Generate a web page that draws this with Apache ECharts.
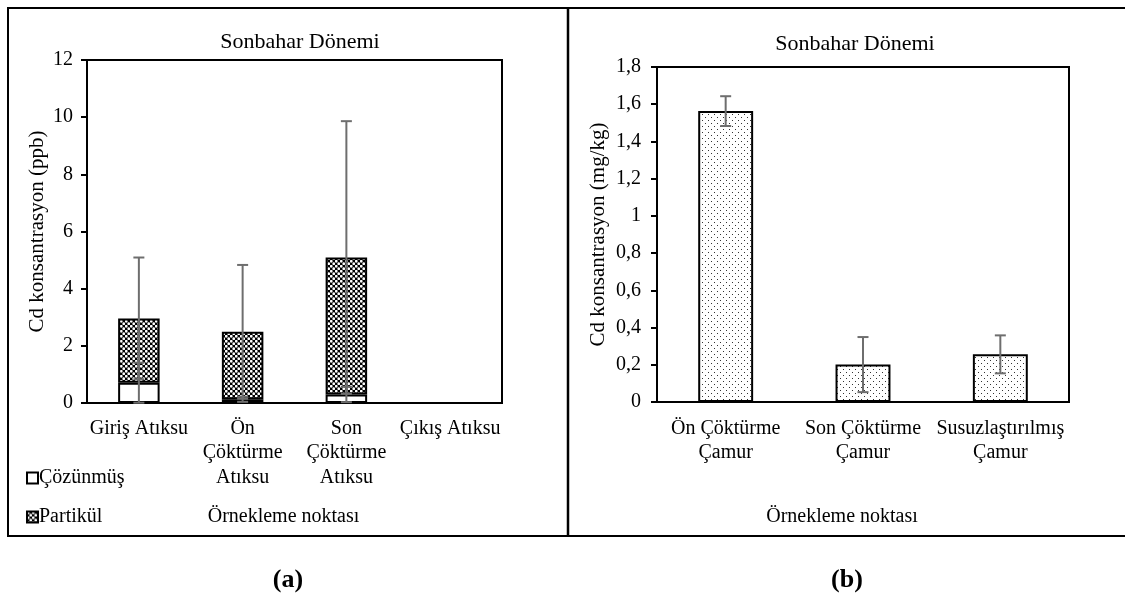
<!DOCTYPE html>
<html>
<head>
<meta charset="utf-8">
<script src="https://cdn.jsdelivr.net/npm/echarts@6/dist/echarts.min.js"></script>
<style>
  html, body { margin: 0; padding: 0; background: #fff; }
  #chart { width: 1125px; height: 597px; }
</style>
</head>
<body>
<div id="chart"></div>
<script>
// Panel (a): dissolved / particulate Cd in wastewater (ppb)
const catsA = ['Giriş Atıksu', 'Ön\nÇöktürme\nAtıksu', 'Son\nÇöktürme\nAtıksu', 'Çıkış Atıksu'];
const dissolved = [0.71, 0.13, 0.30, null];
const particle = [2.25, 2.36, 4.79, null];
const dissolvedErr = [0.70, 0.09, 0.27, null];
const totalErr = [2.13, 2.34, 4.77, null];

// Panel (b): Cd in sludge (mg/kg)
const catsB = ['Ön Çöktürme\nÇamur', 'Son Çöktürme\nÇamur', 'Susuzlaştırılmış\nÇamur'];
const sludge = [1.563, 0.201, 0.256];
const sludgeErr = [0.080, 0.148, 0.102];

const serif = '"Liberation Serif", "Times New Roman", serif';
const FS = 20;

// Fill textures: white spheres on black, and sparse dots
function densePattern() {
  const c = document.createElement('canvas');
  c.width = 5; c.height = 5;
  const g = c.getContext('2d');
  g.fillStyle = '#000'; g.fillRect(0, 0, 5, 5);
  g.fillStyle = '#fff';
  [[1.25, 1.25], [3.75, 3.75]].forEach(p => {
    g.beginPath(); g.arc(p[0], p[1], 1.4, 0, Math.PI * 2); g.fill();
  });
  return c;
}
function dotPattern() {
  const c = document.createElement('canvas');
  c.width = 6; c.height = 6;
  const g = c.getContext('2d');
  g.fillStyle = '#fff'; g.fillRect(0, 0, 6, 6);
  g.fillStyle = '#333';
  g.fillRect(0, 0, 1, 1); g.fillRect(3, 3, 1, 1);
  return c;
}
const fillDense = { image: densePattern(), repeat: 'repeat' };
const fillDots = { image: dotPattern(), repeat: 'repeat' };

function errorBar(params, api) {
  const x = api.value(0), v = api.value(1), e = api.value(2);
  if (isNaN(v) || isNaN(e)) return null;
  const hi = api.coord([x, v + e]);
  const lo = api.coord([x, Math.max(v - e, 0)]);
  const w = 5.5;
  const st = { stroke: '#6e6e6e', lineWidth: 2 };
  return {
    type: 'group',
    children: [
      { type: 'line', shape: { x1: hi[0], y1: hi[1], x2: lo[0], y2: lo[1] }, style: st },
      { type: 'line', shape: { x1: hi[0] - w, y1: hi[1], x2: hi[0] + w, y2: hi[1] }, style: st },
      { type: 'line', shape: { x1: lo[0] - w, y1: lo[1], x2: lo[0] + w, y2: lo[1] }, style: st }
    ]
  };
}

const errA = [];
const errA2 = [];
catsA.forEach((c, i) => {
  if (dissolved[i] == null) return;
  errA.push([i, dissolved[i], dissolvedErr[i]]);
  errA2.push([i, dissolved[i] + particle[i], totalErr[i]]);
});
const errB = catsB.map((c, i) => [i, sludge[i], sludgeErr[i]]);

const axisLine = { show: true, lineStyle: { color: '#000', width: 2 } };
const labelStyle = { fontFamily: serif, fontSize: FS, color: '#000' };
const nameStyle = { fontFamily: serif, fontSize: 21, color: '#000' };
const titleStyle = { fontFamily: serif, fontSize: 22, fontWeight: 'normal', color: '#000' };
const tagStyle = { fontFamily: serif, fontSize: 26, fontWeight: 'bold', color: '#000' };

const chart = echarts.init(document.getElementById('chart'), null, { renderer: 'canvas' });
chart.setOption({
  animation: false,
  backgroundColor: '#fff',
  textStyle: { fontFamily: serif },
  title: [
    { text: 'Sonbahar Dönemi', left: 295, top: 26, textAlign: 'center', textStyle: titleStyle },
    { text: 'Sonbahar Dönemi', left: 850, top: 28, textAlign: 'center', textStyle: titleStyle },
    { text: '(a)', left: 283, top: 562, textAlign: 'center', textStyle: tagStyle },
    { text: '(b)', left: 842, top: 562, textAlign: 'center', textStyle: tagStyle }
  ],
  legend: {
    left: 21, top: 463, orient: 'vertical', itemGap: 19,
    itemWidth: 11, itemHeight: 11, icon: 'rect',
    data: ['Çözünmüş', 'Partikül'],
    textStyle: { fontFamily: serif, fontSize: FS, color: '#000', padding: [0, 0, 0, -4] }
  },
  grid: [
    { left: 87, top: 60, width: 415, height: 343, show: true, borderColor: '#000', borderWidth: 2, backgroundColor: 'transparent' },
    { left: 657, top: 67, width: 412, height: 335, show: true, borderColor: '#000', borderWidth: 2, backgroundColor: 'transparent' }
  ],
  xAxis: [
    { type: 'category', gridIndex: 0, data: catsA, axisLine, axisTick: { show: false },
      axisLabel: Object.assign({ margin: 13, lineHeight: 24.5, interval: 0 }, labelStyle),
      name: 'Örnekleme noktası', nameLocation: 'middle', nameGap: 104,
      nameTextStyle: { fontFamily: serif, fontSize: FS, color: '#000', padding: [0, 0, 0, -22] } },
    { type: 'category', gridIndex: 1, data: catsB, axisLine, axisTick: { show: false },
      axisLabel: Object.assign({ margin: 14, lineHeight: 24.5, interval: 0 }, labelStyle),
      name: 'Örnekleme noktası', nameLocation: 'middle', nameGap: 105,
      nameTextStyle: { fontFamily: serif, fontSize: FS, color: '#000', padding: [0, 0, 0, -42] } }
  ],
  yAxis: [
    { type: 'value', gridIndex: 0, min: 0, max: 12, interval: 2, axisLine,
      axisTick: { show: true, length: 6, lineStyle: { color: '#000', width: 2 } },
      splitLine: { show: false },
      axisLabel: Object.assign({ margin: 14 }, labelStyle),
      name: 'Cd konsantrasyon (ppb)', nameLocation: 'middle', nameGap: 39.5, nameRotate: 90,
      nameTextStyle: nameStyle },
    { type: 'value', gridIndex: 1, min: 0, max: 1.8, interval: 0.2, axisLine,
      axisTick: { show: true, length: 6, lineStyle: { color: '#000', width: 2 } },
      splitLine: { show: false },
      axisLabel: Object.assign({ margin: 16, formatter: v => String(Math.round(v * 10) / 10).replace('.', ',') }, labelStyle),
      name: 'Cd konsantrasyon (mg/kg)', nameLocation: 'middle', nameGap: 48.5, nameRotate: 90,
      nameTextStyle: nameStyle }
  ],
  series: [
    { name: 'Çözünmüş', type: 'bar', stack: 'a', xAxisIndex: 0, yAxisIndex: 0, data: dissolved,
      barWidth: '40%', itemStyle: { color: '#fff', borderColor: '#000', borderWidth: 2 } },
    { name: 'Partikül', type: 'bar', stack: 'a', xAxisIndex: 0, yAxisIndex: 0, data: particle,
      barWidth: '40%', itemStyle: { color: fillDense, borderColor: '#000', borderWidth: 2 } },
    { type: 'custom', xAxisIndex: 0, yAxisIndex: 0, renderItem: errorBar, data: errA2, z: 5 },
    { type: 'custom', xAxisIndex: 0, yAxisIndex: 0, renderItem: errorBar, data: errA, z: 5 },
    { name: 'Çamur', type: 'bar', xAxisIndex: 1, yAxisIndex: 1, data: sludge,
      barWidth: '40%', itemStyle: { color: fillDots, borderColor: '#000', borderWidth: 2 } },
    { type: 'custom', xAxisIndex: 1, yAxisIndex: 1, renderItem: errorBar, data: errB, z: 5 }
  ],
  graphic: [
    { type: 'polyline', silent: true, shape: { points: [[1125, 8], [8, 8], [8, 536], [1125, 536]] },
      style: { stroke: '#000', lineWidth: 2, fill: null } },
    { type: 'line', silent: true, shape: { x1: 568, y1: 8, x2: 568, y2: 536 },
      style: { stroke: '#000', lineWidth: 2.5 } }
  ]
});
</script>
</body>
</html>
